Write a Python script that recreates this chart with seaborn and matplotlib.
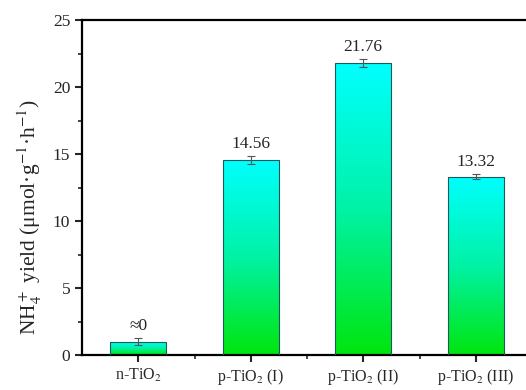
import matplotlib
matplotlib.use("Agg")
import matplotlib.pyplot as plt
import numpy as np
import pandas as pd
import seaborn as sns
from matplotlib.colors import LinearSegmentedColormap
from matplotlib.ticker import MultipleLocator, FixedLocator

# 資料
samples = ["n-TiO$_2$", "p-TiO$_2$ (I)", "p-TiO$_2$ (II)", "p-TiO$_2$ (III)"]
yields = [1.0, 14.56, 21.76, 13.32]
errors = [0.25, 0.30, 0.30, 0.20]
value_labels = ["≈0", "14.56", "21.76", "13.32"]

sns.set_theme(style="ticks")
plt.rcParams["font.family"] = ["Liberation Serif", "DejaVu Serif"]
plt.rcParams["mathtext.fontset"] = "stix"

df = pd.DataFrame({"sample": samples, "yield": yields})

fig = plt.figure(figsize=(5.26, 3.90), dpi=100)
ax = fig.add_axes([82 / 526, 35 / 390, 450 / 526, 335 / 390])

sns.barplot(data=df, x="sample", y="yield", ax=ax, width=0.5,
            color="white", edgecolor="#1f5a5a", linewidth=0.8, errorbar=None)

# 每根柱子：上青下綠漸層
cmap = LinearSegmentedColormap.from_list(
    "cg", [(0.0, (0.0, 0.90, 0.05)), (0.5, (0.0, 0.95, 0.65)), (1.0, (0.0, 1.0, 1.0))])
grad = np.linspace(0, 1, 256).reshape(-1, 1)
for p in ax.patches:
    x0, y0 = p.get_x(), p.get_y()
    w, h = p.get_width(), p.get_height()
    im = ax.imshow(grad, cmap=cmap, origin="lower", aspect="auto",
                   extent=[x0, x0 + w, y0, y0 + h], zorder=p.get_zorder() - 0.1)
    im.set_clip_path(p)
    p.set_facecolor("none")
    p.set_zorder(3)

xs = np.arange(len(samples))
ax.errorbar(xs, yields, yerr=errors, fmt="none", ecolor="#555555",
            elinewidth=0.8, capsize=3, capthick=0.8, zorder=4)
for x, v, e, lab in zip(xs, yields, errors, value_labels):
    ax.text(x, v + e + 0.3, lab, ha="center", va="bottom", fontsize=12.5)

ax.set_xlim(-0.5, 3.5)
ax.set_ylim(0, 25)
ax.yaxis.set_major_locator(MultipleLocator(5))
ax.yaxis.set_minor_locator(MultipleLocator(2.5))
ax.xaxis.set_minor_locator(FixedLocator([0.5, 1.5, 2.5]))
ax.tick_params(axis="both", which="major", direction="out", length=5, width=1.5,
               labelsize=12.5, top=False, right=False)
ax.tick_params(axis="x", which="major", labelsize=11.5)
ax.tick_params(axis="both", which="minor", direction="out", length=3, width=1.2,
               top=False, right=False)
ax.set_xlabel("")
ax.set_ylabel("NH$_4^+$ yield (μmol·g$^{-1}$·h$^{-1}$)", fontsize=15.5)
ax.yaxis.set_label_coords(-0.084, 0.41)

for s in ["left", "bottom", "top", "right"]:
    ax.spines[s].set_linewidth(1.6)
    ax.spines[s].set_color("black")

fig.savefig("out.png", dpi=100)
